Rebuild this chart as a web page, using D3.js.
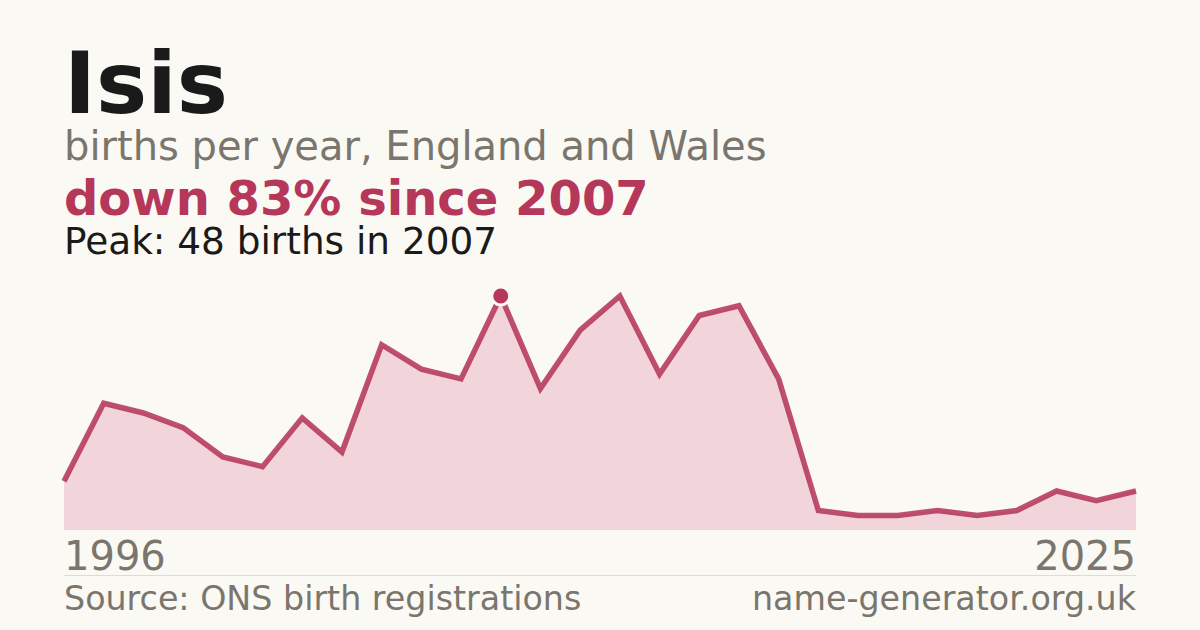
<!DOCTYPE html>
<html>
<head>
<meta charset="utf-8">
<script src="https://cdn.jsdelivr.net/npm/d3@7"></script>
<style>
  html, body { margin: 0; padding: 0; background: #faf9f4; }
  svg { display: block; font-family: "DejaVu Sans", sans-serif; }
</style>
</head>
<body>
<script>
// Data
const years = [1996, 1997, 1998, 1999, 2000, 2001, 2002, 2003, 2004, 2005,
  2006, 2007, 2008, 2009, 2010, 2011, 2012, 2013, 2014, 2015,
  2016, 2017, 2018, 2019, 2020, 2021, 2022, 2023];
const births = [10, 26, 24, 21, 15, 13, 23, 16, 38, 33,
  31, 48, 29, 41, 48, 32, 44, 46, 31, 4,
  3, 3, 4, 3, 4, 8, 6, 8];
const tickLabels = ["1996", "2025"];
const peakYear = 2007;

const width = 1200;
const height = 630;
const margin = { left: 64, right: 64 };
const plotTop = 296;
const plotBottom = 530;
const red = "#b5375a";
const grey = "#7a756d";

const svg = d3
  .select("body")
  .append("svg")
  .attr("width", width)
  .attr("height", height);

svg.append("rect").attr("width", width).attr("height", height).attr("fill", "#faf9f4");

// headings
svg.append("text").attr("x", 64).attr("y", 113)
  .attr("font-size", 86).attr("font-weight", "bold").attr("fill", "#1a1a1a")
  .text("Isis");
svg.append("text").attr("x", 64).attr("y", 160)
  .attr("font-size", 40).attr("fill", grey)
  .text("births per year, England and Wales");
svg.append("text").attr("x", 64).attr("y", 215)
  .attr("font-size", 48).attr("font-weight", "bold").attr("fill", red)
  .text("down 83% since 2007");
svg.append("text").attr("x", 64).attr("y", 254)
  .attr("font-size", 37.4).attr("fill", "#1a1a1a")
  .text("Peak: 48 births in 2007");

// scales
const x = d3.scalePoint().domain(years).range([margin.left, width - margin.right]);
const y = d3.scaleLinear().domain([0, d3.max(births)]).range([plotBottom, plotTop]);

const data = years.map((yr, i) => ({ year: yr, value: births[i] }));

const area = d3.area()
  .x((d) => x(d.year))
  .y0(plotBottom)
  .y1((d) => y(d.value));

const line = d3.line()
  .x((d) => x(d.year))
  .y((d) => y(d.value));

svg.append("path").datum(data).attr("d", area).attr("fill", "#f2d5da");

svg.append("path").datum(data).attr("d", line)
  .attr("fill", "none")
  .attr("stroke", red)
  .attr("stroke-opacity", 0.88)
  .attr("stroke-width", 5.5)
  .attr("stroke-linejoin", "miter");

// peak marker
const peak = data.find((d) => d.year === peakYear);
svg.append("circle")
  .attr("cx", x(peak.year)).attr("cy", y(peak.value)).attr("r", 9)
  .attr("fill", red).attr("stroke", "#faf9f4").attr("stroke-width", 3);

// year labels
svg.append("text").attr("x", x(years[0])).attr("y", 570)
  .attr("font-size", 40).attr("fill", grey)
  .text(tickLabels[0]);
svg.append("text").attr("x", x(years[years.length - 1])).attr("y", 570)
  .attr("font-size", 40).attr("fill", grey).attr("text-anchor", "end")
  .text(tickLabels[1]);

// rule + footer
svg.append("line")
  .attr("x1", 64).attr("x2", width - 64).attr("y1", 575.5).attr("y2", 575.5)
  .attr("stroke", "#dedbd3").attr("stroke-width", 1);

svg.append("text").attr("x", 64).attr("y", 610)
  .attr("font-size", 33.3).attr("fill", grey)
  .text("Source: ONS birth registrations");
svg.append("text").attr("x", width - 64).attr("y", 610)
  .attr("font-size", 33.3).attr("fill", grey).attr("text-anchor", "end")
  .text("name-generator.org.uk");
</script>
</body>
</html>
